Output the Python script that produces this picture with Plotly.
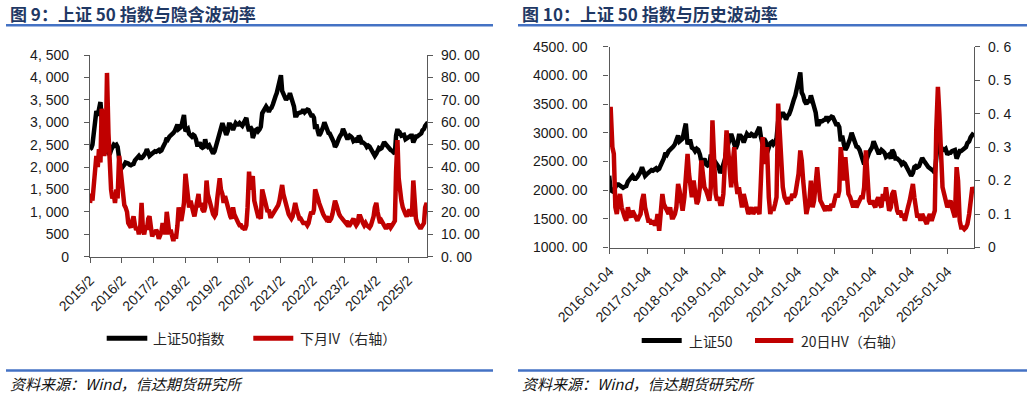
import pandas as pd
import plotly.graph_objects as go

# ---------------- data (semi-monthly readings: 1st / 15th of month) ----------------
# SSE 50 index, from 2015-02
index_vals = [
    # 2015 (Feb-Dec)
    2400, 2420, 2500, 2750, 3050, 3250, 3150, 3300, 3450, 3100, 2750, 2800, 2700, 2350, 2300, 2280, 2380, 2450, 2500, 2480, 2500, 2450,
    # 2016
    2250, 2000, 1980, 2000, 2050, 2100, 2100, 2080, 2050, 2040, 2060, 2070, 2150, 2180, 2200, 2250, 2200, 2200, 2230, 2260, 2320, 2400, 2330, 2250,
    # 2017
    2280, 2300, 2340, 2350, 2340, 2360, 2380, 2350, 2370, 2430, 2480, 2550, 2650, 2620, 2680, 2700, 2720, 2760, 2800, 2900, 2950, 2850, 2870, 2900,
    # 2018
    3050, 3160, 2800, 2850, 2850, 2740, 2720, 2680, 2720, 2700, 2620, 2500, 2500, 2550, 2450, 2430, 2450, 2620, 2480, 2450, 2480, 2430, 2400, 2300,
    # 2019
    2350, 2450, 2550, 2700, 2800, 2850, 2980, 2900, 2780, 2720, 2800, 2950, 2950, 2920, 2830, 2880, 2980, 2950, 2950, 2980, 2960, 2920, 2980, 3060,
    # 2020
    3100, 2930, 2800, 2900, 2850, 2650, 2750, 2820, 2840, 2800, 2840, 2900, 3200, 3250, 3300, 3350, 3300, 3230, 3300, 3320, 3400, 3520, 3580, 3650,
    # 2021
    3800, 3850, 4050, 3700, 3650, 3550, 3500, 3550, 3550, 3650, 3550, 3450, 3350, 3150, 3150, 3200, 3200, 3220, 3230, 3280, 3220, 3250, 3280, 3270,
    # 2022
    3200, 3150, 3150, 3100, 2850, 2950, 2800, 2700, 2750, 2800, 2900, 3000, 2900, 2800, 2760, 2750, 2700, 2620, 2550, 2450, 2500, 2600, 2650, 2700,
    # 2023
    2750, 2850, 2750, 2680, 2650, 2650, 2700, 2680, 2650, 2580, 2600, 2620, 2550, 2700, 2650, 2550, 2550, 2530, 2500, 2450, 2480, 2460, 2400, 2350,
    # 2024
    2300, 2250, 2300, 2400, 2420, 2400, 2420, 2480, 2560, 2520, 2470, 2440, 2400, 2380, 2360, 2340, 2300, 2700, 2850, 2720, 2750, 2700, 2700, 2720,
    # 2025 (Jan-Sep)
    2620, 2650, 2650, 2680, 2700, 2700, 2550, 2620, 2680, 2680, 2700, 2720, 2750, 2820, 2850, 2920, 2950, 3000,
]

# next-month implied volatility (%), from 2015-02
iv_vals = [
    24, 28, 25, 32, 38, 45, 40, 48, 42, 66, 60, 45, 50, 82, 55, 40, 30, 26, 28, 24, 30, 26,
    45, 40, 32, 25, 23, 22, 20, 15, 14, 13, 16, 18, 14, 12, 13, 10, 14, 24, 12, 10, 14, 12, 17, 18,
    13, 9, 11, 10, 12, 11, 8, 9, 11, 15, 12, 10, 20, 14, 10, 12, 9, 7, 10, 8, 14, 22, 18, 16,
    20, 24, 37, 30, 24, 22, 25, 21, 20, 18, 22, 26, 28, 22, 24, 21, 20, 22, 34, 28, 25, 22, 21, 19,
    18, 19, 26, 30, 35, 30, 28, 24, 27, 25, 22, 20, 18, 17, 22, 19, 17, 16, 15, 14, 14, 13, 13, 12,
    14, 22, 38, 30, 33, 36, 25, 22, 19, 18, 18, 17, 30, 28, 24, 22, 20, 21, 18, 18, 19, 20, 21, 22,
    23, 25, 30, 32, 28, 26, 22, 20, 19, 18, 17, 18, 22, 24, 21, 18, 17, 17, 16, 15, 15, 15, 14, 15,
    18, 20, 19, 21, 30, 27, 26, 24, 22, 20, 19, 18, 17, 18, 16, 16, 17, 19, 22, 25, 23, 20, 19, 18,
    17, 16, 15, 15, 16, 14, 14, 15, 16, 17, 15, 14, 15, 18, 18, 16, 15, 14, 15, 14, 13, 13, 14, 16,
    18, 22, 24, 20, 16, 15, 16, 15, 14, 13, 13, 14, 14, 13, 14, 15, 16, 38, 52, 35, 28, 25, 22, 20,
    19, 18, 20, 21, 20, 18, 34, 24, 17, 15, 14, 13, 13, 14, 15, 22, 24, 20,
]

# 20-day historical volatility, from 2016-01
hv_vals = [
    0.30, 0.42, 0.30, 0.28, 0.12, 0.10, 0.14, 0.16, 0.12, 0.10, 0.09, 0.08, 0.12, 0.10, 0.09, 0.11, 0.10, 0.09, 0.08, 0.09, 0.10, 0.14, 0.16, 0.12,
    0.09, 0.08, 0.08, 0.07, 0.08, 0.07, 0.07, 0.10, 0.05, 0.09, 0.16, 0.13, 0.12, 0.11, 0.10, 0.12, 0.09, 0.09, 0.10, 0.12, 0.19, 0.17, 0.12, 0.11,
    0.15, 0.20, 0.28, 0.22, 0.18, 0.15, 0.20, 0.16, 0.13, 0.14, 0.18, 0.26, 0.20, 0.18, 0.17, 0.15, 0.14, 0.18, 0.38, 0.28, 0.16, 0.14, 0.15, 0.13,
    0.13, 0.16, 0.25, 0.35, 0.30, 0.24, 0.18, 0.25, 0.30, 0.20, 0.16, 0.18, 0.14, 0.12, 0.16, 0.14, 0.11, 0.10, 0.11, 0.12, 0.10, 0.11, 0.12, 0.11,
    0.10, 0.20, 0.33, 0.25, 0.28, 0.30, 0.15, 0.10, 0.12, 0.11, 0.13, 0.15, 0.43, 0.35, 0.22, 0.18, 0.15, 0.14, 0.13, 0.15, 0.14, 0.16, 0.15, 0.16,
    0.20, 0.22, 0.29, 0.26, 0.20, 0.15, 0.10, 0.12, 0.14, 0.20, 0.12, 0.14, 0.22, 0.24, 0.18, 0.14, 0.13, 0.12, 0.11, 0.12, 0.12, 0.11, 0.13, 0.12,
    0.14, 0.16, 0.15, 0.17, 0.30, 0.24, 0.20, 0.27, 0.22, 0.16, 0.15, 0.13, 0.12, 0.14, 0.12, 0.13, 0.14, 0.15, 0.15, 0.18, 0.29, 0.22, 0.14, 0.13,
    0.14, 0.13, 0.12, 0.14, 0.15, 0.13, 0.12, 0.16, 0.14, 0.18, 0.13, 0.11, 0.12, 0.16, 0.17, 0.13, 0.11, 0.10, 0.11, 0.09, 0.10, 0.08, 0.11, 0.12,
    0.14, 0.17, 0.19, 0.15, 0.11, 0.09, 0.10, 0.08, 0.10, 0.09, 0.08, 0.07, 0.09, 0.10, 0.08, 0.10, 0.11, 0.35, 0.48, 0.40, 0.22, 0.18, 0.16, 0.14,
    0.12, 0.13, 0.14, 0.12, 0.10, 0.09, 0.24, 0.20, 0.08, 0.06, 0.06, 0.055, 0.06, 0.07, 0.10, 0.15, 0.18, 0.17,
]

left_tick_labels = ["2015/2", "2016/2", "2017/2", "2018/2", "2019/2", "2020/2",
                    "2021/2", "2022/2", "2023/2", "2024/2", "2025/2"]
right_tick_labels = ["2016-01-04", "2017-01-04", "2018-01-04", "2019-01-04", "2020-01-04",
                     "2021-01-04", "2022-01-04", "2023-01-04", "2024-01-04", "2025-01-04"]

idx_y_vals = [0, 500, 1000, 1500, 2000, 2500, 3000, 3500, 4000, 4500]
idx_y_text = ["0", "500", "1, 000", "1, 500", "2, 000", "2, 500", "3, 000", "3, 500", "4, 000", "4, 500"]
iv_y_vals = [0, 10, 20, 30, 40, 50, 60, 70, 80, 90]
iv_y_text = ["0. 00", "10. 00", "20. 00", "30. 00", "40. 00", "50. 00", "60. 00", "70. 00", "80. 00", "90. 00"]
r_idx_vals = [1000, 1500, 2000, 2500, 3000, 3500, 4000, 4500]
r_idx_text = ["1000. 00", "1500. 00", "2000. 00", "2500. 00", "3000. 00", "3500. 00", "4000. 00", "4500. 00"]
hv_y_vals = [0, 0.1, 0.2, 0.3, 0.4, 0.5, 0.6]
hv_y_text = ["0", "0. 1", "0. 2", "0. 3", "0. 4", "0. 5", "0. 6"]

# ---------------- build ----------------
idx_dates = pd.date_range("2015-02-01", periods=len(index_vals), freq="SMS")
iv_dates = pd.date_range("2015-02-01", periods=len(iv_vals), freq="SMS")
hv_dates = pd.date_range("2016-01-01", periods=len(hv_vals), freq="SMS")
idx_series = pd.Series(index_vals, index=idx_dates)
idx_right = idx_series[idx_series.index >= "2016-01-01"]

left_tick_pos = [pd.to_datetime(s, format="%Y/%m") for s in left_tick_labels]
right_tick_pos = [pd.to_datetime(s) for s in right_tick_labels]

W, H = 1032, 396
def px(x):
    return x / W
def py(y):
    return (H - y) / H

BLACK = "#000000"
RED = "#C00000"
AX = "#595959"
TXT = "#1a1a1a"
NUMFONT = dict(family="Liberation Sans, Arial, sans-serif", size=14, color=TXT)
CJK = "Noto Sans CJK SC, sans-serif"
LW = 4.5

fig = go.Figure()
fig.add_trace(go.Scatter(x=idx_dates, y=index_vals, mode="lines", name="上证50指数",
                         line=dict(color=BLACK, width=LW), xaxis="x", yaxis="y", showlegend=False))
fig.add_trace(go.Scatter(x=iv_dates, y=iv_vals, mode="lines", name="下月IV（右轴）",
                         line=dict(color=RED, width=LW), xaxis="x", yaxis="y2", showlegend=False))
fig.add_trace(go.Scatter(x=idx_right.index, y=idx_right.values, mode="lines", name="上证50",
                         line=dict(color=BLACK, width=LW), xaxis="x2", yaxis="y3", showlegend=False))
fig.add_trace(go.Scatter(x=hv_dates, y=hv_vals, mode="lines", name="20日HV（右轴）",
                         line=dict(color=RED, width=LW), xaxis="x2", yaxis="y4", showlegend=False))

common_ax = dict(showline=True, linecolor=AX, linewidth=1.3, ticks="outside", ticklen=5,
                 tickcolor=AX, tickwidth=1.3, showgrid=False, zeroline=False, tickfont=NUMFONT,
                 automargin=False)

fig.update_layout(
    width=W, height=H, margin=dict(l=0, r=0, t=0, b=0, autoexpand=False),
    paper_bgcolor="white", plot_bgcolor="white", hovermode=False,
    xaxis=dict(domain=[px(90), px(427)], type="date", anchor="y",
               range=["2015-02-01", "2025-09-05"], tickmode="array",
               tickvals=left_tick_pos, ticktext=left_tick_labels, tickangle=-45,
               ticklabelstandoff=4, **common_ax),
    yaxis=dict(domain=[py(256.7), py(55)], range=[0, 4500], anchor="x", tickmode="array",
               tickvals=idx_y_vals, ticktext=idx_y_text, ticklabelstandoff=12, **common_ax),
    yaxis2=dict(overlaying="y", side="right", anchor="x", range=[0, 90], tickmode="array",
                tickvals=iv_y_vals, ticktext=iv_y_text, ticklabelstandoff=5, **common_ax),
    xaxis2=dict(domain=[px(609.5), px(974)], type="date", anchor="y3",
                range=["2016-01-04", "2025-09-17"], tickmode="array",
                tickvals=right_tick_pos, ticktext=right_tick_labels, tickangle=-45,
                ticklabelstandoff=4, **common_ax),
    yaxis3=dict(domain=[py(247.5), py(46.7)], range=[1000, 4500], anchor="x2", tickmode="array",
                tickvals=r_idx_vals, ticktext=r_idx_text, ticklabelstandoff=13, **common_ax),
    yaxis4=dict(overlaying="y3", side="right", anchor="x2", range=[0, 0.6], tickmode="array",
                tickvals=hv_y_vals, ticktext=hv_y_text, ticklabelstandoff=5, **common_ax),
)

shapes = []
annotations = []
TITLE_COLOR = "#1F3864"
RULE = "#4472C4"

# titles and rules
for (x0, x1, title) in [(6, 493, "图 9：上证 50 指数与隐含波动率"),
                        (518, 1027, "图 10：上证 50 指数与历史波动率")]:
    annotations.append(dict(xref="paper", yref="paper", x=px(x0 + 2), y=py(13.5), xanchor="left",
                            yanchor="middle", showarrow=False, text="<b>%s</b>" % title,
                            font=dict(family=CJK, size=17, color=TITLE_COLOR)))
    shapes.append(dict(type="line", xref="paper", yref="paper", x0=px(x0), x1=px(x1),
                       y0=py(25.3), y1=py(25.3), line=dict(color=RULE, width=2.6)))
    shapes.append(dict(type="line", xref="paper", yref="paper", x0=px(x0), x1=px(x1),
                       y0=py(370.5), y1=py(370.5), line=dict(color=RULE, width=2.6)))
    annotations.append(dict(xref="paper", yref="paper", x=px(x0 + 2), y=py(383.5), xanchor="left",
                            yanchor="middle", showarrow=False, text="<i>资料来源：Wind，信达期货研究所</i>",
                            font=dict(family=CJK, size=15, color="#111111")))

# legends
legend_items = [
    (106.7, 147.3, 338.3, BLACK, 151, "上证50指数"),
    (253.3, 293.3, 338.3, RED, 298, "下月IV（右轴）"),
    (641.7, 681.7, 340.5, BLACK, 686.5, "上证50"),
    (755.0, 793.3, 340.5, RED, 798.5, "20日HV（右轴）"),
]
for (x0, x1, y, col, tx, label) in legend_items:
    shapes.append(dict(type="line", xref="paper", yref="paper", x0=px(x0), x1=px(x1),
                       y0=py(y), y1=py(y), line=dict(color=col, width=5)))
    annotations.append(dict(xref="paper", yref="paper", x=px(tx), y=py(y), xanchor="left",
                            yanchor="middle", showarrow=False, text=label,
                            font=dict(family=CJK, size=14, color="#262626")))

fig.update_layout(shapes=shapes, annotations=annotations)
# remove the page's default body margin so the figure sits at (0, 0)
fig.write_html("out.html", config={"displayModeBar": False},
               post_script="document.body.style.margin='0';document.body.style.padding='0';")
